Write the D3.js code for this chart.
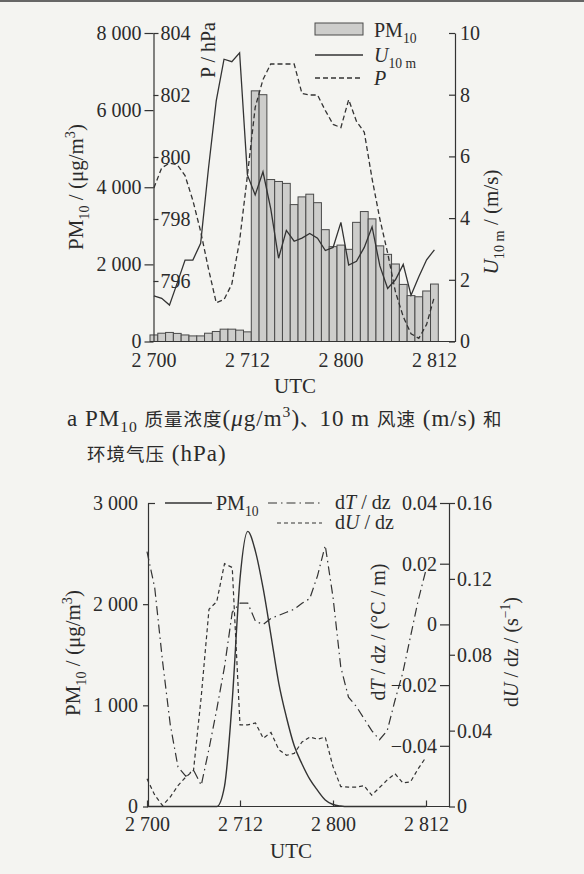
<!DOCTYPE html>
<html>
<head>
<meta charset="utf-8">
<script src="https://cdn.jsdelivr.net/npm/d3@7"></script>
<style>
body { margin: 0; background: #f4f4f1; }
svg { display: block; }
text { font-family: "Liberation Serif", "Noto Sans CJK SC", serif; fill: #2b2b2b; }
.axis text { font-family: "Liberation Serif", serif; font-size: 20px; fill: #2b2b2b; }
.axis line, .axis path { stroke: #333; stroke-width: 1.2; }
</style>
</head>
<body>
<script>
var w = 584;
var h = 874;

// hours after 27 Jan 00 UTC
var hours = [0,1,2,3,4,5,6,7,8,9,10,11,12,13,14,15,16,17,18,19,20,21,22,23,24,25,26,27,28,29,30,31,32,33,34,35,36];
var xTickHours = [0,12,24,36];
var xTickLabels = ["2 700","2 712","2 800","2 812"];

// panel a
var pmA = [170,215,235,210,170,145,145,215,260,320,320,295,250,6500,6400,4200,4150,4100,3550,3750,3820,3600,2900,2460,2500,2390,3090,3370,3180,2480,2260,2010,1480,1190,1160,1310,1490];
var u10 = [1.48,1.4,1.18,1.9,2.64,2.64,3.18,5.6,7.8,9.15,9.07,9.36,5.4,4.75,5.5,4.3,2.7,3.6,3.25,3.35,3.5,3.35,2.95,3.05,3.86,2.48,2.6,3.05,3.72,2.45,1.72,2.0,2.5,1.5,2.1,2.65,2.97];
var pres = [799.0,799.65,799.8,799.75,799.4,798.6,797.6,796.4,795.3,795.4,795.9,797.3,799.4,801.6,802.5,803.0,803.0,803.0,803.0,802.05,802.0,802.0,801.5,801.05,800.95,801.85,801.15,800.8,799.3,798.0,796.9,795.65,794.85,794.3,794.15,794.6,795.5];
var pmTicksA = [0,2000,4000,6000,8000];
var pTicks = [796,798,800,802,804];
var uTicks = [0,2,4,6,8,10];

// panel b
var pmB = [0,0,0,0,0,0,0,0,0,0,200,1050,2250,2720,2520,2150,1690,1220,880,600,420,270,160,65,20,5,0,0,0,0,0,0,0,0,0,0,0];
var dTdz = [0.024,0.012,-0.012,-0.033,-0.047,-0.05,-0.048,-0.053,-0.041,-0.028,-0.014,0.004,0.007,0.007,0.001,0.0,0.002,0.003,0.004,0.005,0.007,0.0085,0.016,0.026,0.009,-0.014,-0.024,-0.027,-0.031,-0.035,-0.038,-0.035,-0.025,-0.016,-0.004,0.008,0.018];
var dUdz = [0.0146,0.006,0.0005,0.005,0.011,0.0155,0.019,0.058,0.104,0.108,0.128,0.126,0.043,0.043,0.044,0.036,0.039,0.030,0.027,0.028,0.034,0.0366,0.0355,0.0366,0.021,0.0105,0.0102,0.0102,0.011,0.006,0.01,0.014,0.0173,0.0125,0.013,0.02,0.026];
var pmTicksB = [0,1000,2000,3000];
var dTTicks = [-0.04,-0.02,0,0.02,0.04];
var dUTicks = [0,0.04,0.08,0.12,0.16];

var loc = d3.formatLocale({decimal: ".", thousands: " ", grouping: [3], currency: ["", ""], minus: "\u2212"});
var fThou = loc.format(",d");
var f2 = function(d){ return d === 0 ? "0" : loc.format(".2f")(d); };
var lineColor = "#333";

var svg = d3.select("body").append("svg").attr("width", w).attr("height", h);
svg.append("rect").attr("width", w).attr("height", h).attr("fill", "#f4f4f1");
svg.append("rect").attr("width", w).attr("height", 2).attr("fill", "#666");

// text with sub / sup / italic parts: [text, style, size]
function rich(sel, parts, size){
  var shift = 0;
  parts.forEach(function(p){
    var t = sel.append("tspan").text(p[0]);
    var st = p[1] || "";
    var fs = p[2] || size;
    var target = st === "sub" ? fs * 0.28 : (st === "sup" ? -fs * 0.38 : 0);
    if (target !== shift) { t.attr("dy", target - shift); shift = target; }
    if (st === "sub" || st === "sup") t.attr("font-size", fs * 0.68);
    else if (p[2]) t.attr("font-size", fs);
    if (st === "i") t.attr("font-style", "italic");
  });
  return sel;
}
function label(x, y, parts, size, rotate, anchor){
  var t = svg.append("text").attr("font-size", size)
    .attr("text-anchor", anchor || "middle");
  if (rotate) t.attr("transform", "translate(" + x + "," + y + ") rotate(-90)").attr("dy", "0.35em");
  else t.attr("x", x).attr("y", y);
  return rich(t, parts, size);
}

// ---------- panel a ----------
var x1 = d3.scaleBand().domain(hours).range([150, 438.3]).padding(0);
var yPM1 = d3.scaleLinear().domain([0, 8000]).range([341.5, 33]);
var yP = d3.scaleLinear().domain([794, 804]).range([343, 33]);
var yU = d3.scaleLinear().domain([0, 10]).range([341.5, 33]);
var cx1 = function(i){ return x1(hours[i]) + x1.bandwidth() / 2; };

svg.append("g").selectAll("rect")
  .data(pmA)
  .enter()
  .append("rect")
  .attr("x", function(d, i){ return x1(hours[i]); })
  .attr("y", function(d){ return yPM1(d); })
  .attr("width", x1.bandwidth())
  .attr("height", function(d){ return yPM1(0) - yPM1(d); })
  .attr("fill", "#cdcdcb")
  .attr("stroke", "#4a4a4a")
  .attr("stroke-width", 1);

svg.append("path").datum(pres)
  .attr("d", d3.line().x(function(d, i){ return cx1(i); }).y(function(d){ return yP(d); }))
  .attr("fill", "none").attr("stroke", lineColor).attr("stroke-width", 1.3).attr("stroke-dasharray", "5,3");
svg.append("path").datum(u10)
  .attr("d", d3.line().x(function(d, i){ return cx1(i); }).y(function(d){ return yU(d); }))
  .attr("fill", "none").attr("stroke", lineColor).attr("stroke-width", 1.3);

svg.append("g").attr("class", "axis").attr("transform", "translate(153.5,0)")
  .call(d3.axisLeft(yPM1).tickValues(pmTicksA).tickFormat(fThou).tickSize(9).tickPadding(3).tickSizeOuter(0));
svg.append("g").attr("class", "axis").attr("transform", "translate(153.5,0)")
  .call(d3.axisRight(yP).tickValues(pTicks).tickSize(5).tickPadding(2).tickSizeOuter(0))
  .select(".domain").remove();
svg.append("g").attr("class", "axis").attr("transform", "translate(455,0)")
  .call(d3.axisRight(yU).tickValues(uTicks).tickSizeInner(-6).tickPadding(5).tickSizeOuter(0));
svg.append("line").attr("x1", 150).attr("x2", 455).attr("y1", 341.5).attr("y2", 341.5)
  .attr("stroke", lineColor).attr("stroke-width", 1.2);
svg.append("g").attr("class", "axis").attr("transform", "translate(0,341.5)")
  .call(d3.axisBottom(x1).tickValues(xTickHours)
    .tickFormat(function(d){ return xTickLabels[xTickHours.indexOf(d)]; })
    .tickSize(0).tickPadding(11))
  .select(".domain").remove();

// legend a
svg.append("rect").attr("x", 315).attr("y", 23).attr("width", 48).attr("height", 12)
  .attr("fill", "#cdcdcb").attr("stroke", "#4a4a4a");
svg.append("line").attr("x1", 315).attr("x2", 363).attr("y1", 55).attr("y2", 55)
  .attr("stroke", lineColor).attr("stroke-width", 1.3);
svg.append("line").attr("x1", 315).attr("x2", 363).attr("y1", 78).attr("y2", 78)
  .attr("stroke", lineColor).attr("stroke-width", 1.3).attr("stroke-dasharray", "5,3");
label(374, 37, [["PM"], ["10", "sub"]], 20, false, "start");
label(374, 62, [["U", "i"], ["10 m", "sub"]], 20, false, "start");
label(374, 85, [["P", "i"]], 20, false, "start");

// titles a
label(76, 187, [["PM"], ["10", "sub"], [" / (\u03bcg/m"], ["3", "sup"], [")"]], 21, true);
label(208, 50, [["P / hPa"]], 20, true);
label(491, 222, [["U", "i"], ["10 m", "sub"], [" / (m/s)"]], 21, true);
label(295, 393, [["UTC"]], 21, false);

// caption
label(67, 426, [["a PM", "", 23], ["10", "sub", 23], [" ", "", 23], ["质量浓度"], ["(", "", 23], ["\u03bc", "i", 23],
  ["g/m", "", 23], ["3", "sup", 23], [")", "", 23], ["、"], ["10 m ", "", 23], ["风速"], [" (m/s) ", "", 23], ["和"]],
  18.5, false, "start").attr("letter-spacing", 1);
label(87, 461, [["环境气压"], [" (hPa)", "", 23]], 18.5, false, "start").attr("letter-spacing", 1);

// ---------- panel b ----------
var x2 = d3.scaleLinear().domain([0, 36]).range([147, 426]);
var yPM2 = d3.scaleLinear().domain([0, 3000]).range([806.5, 503]);
var yT = d3.scaleLinear().domain([-0.06, 0.04]).range([806.5, 503]);
var yDU = d3.scaleLinear().domain([0, 0.16]).range([806.5, 503]);

svg.append("path").datum(dUdz)
  .attr("d", d3.line().x(function(d, i){ return x2(hours[i]); }).y(function(d){ return yDU(d); }))
  .attr("fill", "none").attr("stroke", lineColor).attr("stroke-width", 1.2).attr("stroke-dasharray", "4,3");
svg.append("path").datum(dTdz)
  .attr("d", d3.line().x(function(d, i){ return x2(hours[i]); }).y(function(d){ return yT(d); }))
  .attr("fill", "none").attr("stroke", lineColor).attr("stroke-width", 1.2).attr("stroke-dasharray", "9,4,1.5,4");
svg.append("path").datum(pmB)
  .attr("d", d3.line().curve(d3.curveMonotoneX).x(function(d, i){ return x2(hours[i]); }).y(function(d){ return yPM2(d); }))
  .attr("fill", "none").attr("stroke", lineColor).attr("stroke-width", 1.4);

var gPM2 = svg.append("g").attr("class", "axis").attr("transform", "translate(148,0)")
  .call(d3.axisLeft(yPM2).tickValues(pmTicksB).tickFormat(fThou).tickSize(5).tickPadding(5).tickSizeOuter(0));
gPM2.selectAll(".tick line").filter(function(d){ return d === 3000; }).attr("x2", 7);
svg.append("g").attr("class", "axis").attr("transform", "translate(449,0)")
  .call(d3.axisLeft(yT).tickValues(dTTicks).tickFormat(f2).tickSize(9).tickPadding(3).tickSizeOuter(0))
  .select(".domain").remove();
svg.append("g").attr("class", "axis").attr("transform", "translate(449,0)")
  .call(d3.axisRight(yDU).tickValues(dUTicks).tickFormat(f2).tickSize(6).tickPadding(2).tickSizeOuter(0));
svg.append("line").attr("x1", 148).attr("x2", 449).attr("y1", 806.5).attr("y2", 806.5)
  .attr("stroke", lineColor).attr("stroke-width", 1.2);
svg.append("g").attr("class", "axis").attr("transform", "translate(0,806.5)")
  .call(d3.axisBottom(x2).tickValues(xTickHours)
    .tickFormat(function(d){ return xTickLabels[xTickHours.indexOf(d)]; })
    .tickSizeInner(-6).tickPadding(10).tickSizeOuter(0))
  .select(".domain").remove();

// legend b
svg.append("line").attr("x1", 165).attr("x2", 212).attr("y1", 503).attr("y2", 503)
  .attr("stroke", lineColor).attr("stroke-width", 1.3);
svg.append("line").attr("x1", 268).attr("x2", 322).attr("y1", 503).attr("y2", 503)
  .attr("stroke", lineColor).attr("stroke-width", 1.2).attr("stroke-dasharray", "9,4,1.5,4");
svg.append("line").attr("x1", 277).attr("x2", 322).attr("y1", 523).attr("y2", 523)
  .attr("stroke", lineColor).attr("stroke-width", 1.2).attr("stroke-dasharray", "4,3");
label(216, 510, [["PM"], ["10", "sub"]], 20, false, "start");
label(335, 509, [["d"], ["T", "i"], [" / dz"]], 20, false, "start");
label(335, 529, [["d"], ["U", "i"], [" / dz"]], 20, false, "start");

// titles b
label(73, 653, [["PM"], ["10", "sub"], [" / (\u03bcg/m"], ["3", "sup"], [")"]], 21, true);
label(378, 632, [["d"], ["T", "i"], [" / dz / (\u00b0C / m)"]], 20, true);
label(511, 652, [["d"], ["U", "i"], [" / dz / (s"], ["\u22121", "sup"], [")"]], 20, true);
label(291, 858, [["UTC"]], 21, false);
</script>
</body>
</html>
